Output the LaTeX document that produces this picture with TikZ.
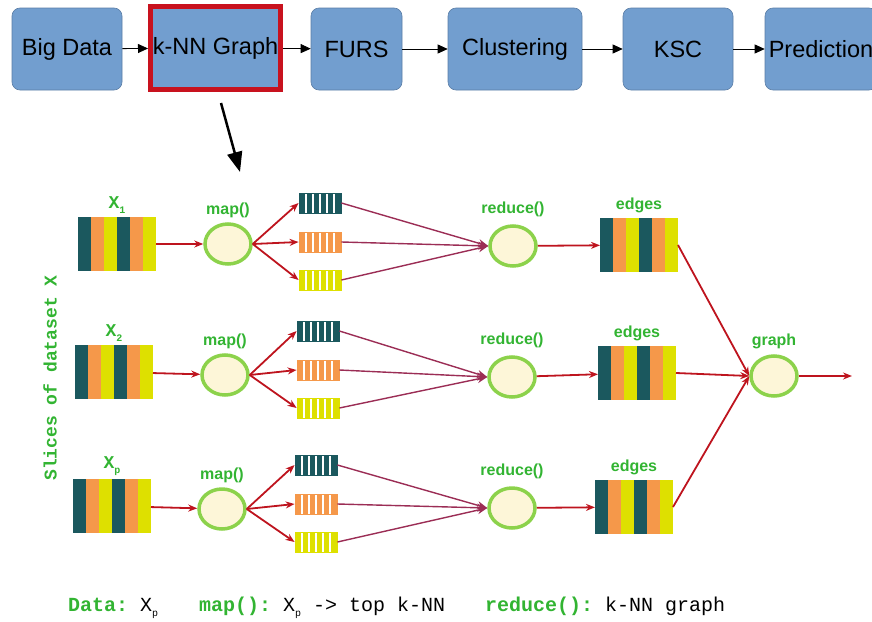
\documentclass[tikz,border=0pt]{standalone}
\usepackage{fontspec}
\setsansfont{Liberation Sans}
\setmonofont{Liberation Mono}
\usetikzlibrary{arrows.meta,shapes.geometric}

\definecolor{boxblue}{RGB}{114,158,207}
\definecolor{framered}{RGB}{200,18,30}
\definecolor{darkteal}{RGB}{27,88,94}
\definecolor{sliceorange}{RGB}{245,152,74}
\definecolor{sliceyellow}{RGB}{222,224,0}
\definecolor{lblgreen}{RGB}{50,180,50}
\definecolor{ringgreen}{RGB}{140,210,75}
\definecolor{cream}{RGB}{253,246,216}
\definecolor{arrred}{RGB}{190,20,30}
\definecolor{linkmaroon}{RGB}{155,45,85}

\newcommand{\subx}[1]{\raisebox{-5pt}{\fontsize{10}{10}\selectfont #1}}

\tikzset{
  stage/.style={rectangle, rounded corners=8pt, fill=boxblue, draw=boxblue!80!black,
    line width=0.6pt, minimum height=82pt, inner sep=2pt,
    font=\sffamily\fontsize{23.5}{27}\selectfont},
  slice/.style={rectangle, inner sep=0pt, outer sep=0pt, minimum width=78pt, minimum height=53pt,
    path picture={
      \foreach \col [count=\i from 0] in {darkteal,sliceorange,sliceyellow,darkteal,sliceorange,sliceyellow}
        \fill[\col] ([xshift=\i*13pt]path picture bounding box.south west) rectangle ++(13pt,80pt);}},
  queue/.style={rectangle, inner sep=0pt, minimum width=42pt, minimum height=20pt,
    fill=#1, draw=#1, line width=0.8pt,
    path picture={
      \foreach \i in {1,...,5}
        \draw[white, line width=1.6pt] ([xshift=\i*7pt]path picture bounding box.south west) -- ++(0pt,30pt);}},
  ring/.style={ellipse, minimum width=46pt, minimum height=40pt, fill=cream, draw=ringgreen, line width=3.5pt},
  lbl/.style={text=lblgreen, font=\sffamily\bfseries\fontsize{16}{18}\selectfont},
  xlbl/.style={text=lblgreen, font=\ttfamily\bfseries\fontsize{18}{20}\selectfont},
  redarr/.style={draw=arrred, line width=1.8pt, -{Stealth[length=9pt,width=7pt]}},
  linkarr/.style={draw=linkmaroon, line width=1.4pt, -{Stealth[length=10pt,width=8pt]}},
  steparr/.style={draw=black, line width=0.8pt, -{Triangle[length=10pt,width=9pt]}}
}

\begin{document}
\begin{tikzpicture}[x=1pt, y=-1pt]
    \useasboundingbox (0,0) rectangle (872,621);

    % pipeline
    \node[stage, minimum width=110pt] (bd) at (67, 49) {Big Data};
    \node[stage, rounded corners=0pt, minimum width=130pt, minimum height=83pt, draw=framered, line width=5pt] (knn) at (215.5, 48) {k-NN Graph};
    \node[stage, minimum width=91pt] (furs) at (356.5, 49) {FURS};
    \node[stage, minimum width=134pt] (clu) at (515, 49) {Clustering};
    \node[stage, minimum width=110pt] (ksc) at (678, 49) {KSC};
    \node[stage, minimum width=112pt] (pred) at (821, 49) {Prediction};

    \path[every edge/.style=steparr]
          (bd) edge (knn)
          (knn) edge (furs)
          (furs) edge (clu)
          (clu) edge (ksc)
          (ksc) edge (pred);

    \coordinate (zt) at (221, 103);
    \coordinate (zh) at (240, 172);
    \draw[line width=2.5pt, -{Triangle[length=20pt,width=15pt]}] (zt) -- (zh);

    % slices
    \node[slice, label={[xlbl]above:X\subx{1}}] (d1) at (117, 244) {};
    \node[slice, label={[xlbl]above:X\subx{2}}] (d2) at (114, 372) {};
    \node[slice, label={[xlbl]above:X\subx{p}}] (d3) at (112, 506) {};

    \node[ring, label={[lbl, label distance=1pt]above:map()}] (m1) at (228, 244) {};
    \node[ring, label={[lbl, label distance=1pt]above:map()}] (m2) at (225, 375) {};
    \node[ring, label={[lbl, label distance=1pt]above:map()}] (m3) at (222, 509) {};

    \node[queue=darkteal] (q11) at (320, 203) {};
    \node[queue=sliceorange] (q12) at (320, 242) {};
    \node[queue=sliceyellow] (q13) at (320, 280) {};
    \node[queue=darkteal] (q21) at (318, 331) {};
    \node[queue=sliceorange] (q22) at (318, 370) {};
    \node[queue=sliceyellow] (q23) at (318, 408) {};
    \node[queue=darkteal] (q31) at (316, 465) {};
    \node[queue=sliceorange] (q32) at (316, 504) {};
    \node[queue=sliceyellow] (q33) at (316, 542) {};

    \node[ring, label={[lbl, label distance=4pt]above:reduce()}] (r1) at (513, 246) {};
    \node[ring, label={[lbl, label distance=4pt]above:reduce()}] (r2) at (512, 377) {};
    \node[ring, label={[lbl, label distance=4pt]above:reduce()}] (r3) at (512, 508) {};

    \node[slice, label={[lbl, label distance=2pt]above:edges}] (e1) at (639, 245) {};
    \node[slice, label={[lbl, label distance=2pt]above:edges}] (e2) at (637, 373) {};
    \node[slice, label={[lbl, label distance=2pt]above:edges}] (e3) at (634, 507) {};

    \node[ring, label={[lbl, label distance=2pt]above:graph}] (g) at (774, 376) {};
    \coordinate (gout) at (852, 376);

    \path[every edge/.style=redarr]
          (d1) edge (m1)
          (d2) edge (m2)
          (d3) edge (m3)
          (m1.east) edge (q11.west)
          (m1.east) edge (q12.west)
          (m1.east) edge (q13.west)
          (m2.east) edge (q21.west)
          (m2.east) edge (q22.west)
          (m2.east) edge (q23.west)
          (m3.east) edge (q31.west)
          (m3.east) edge (q32.west)
          (m3.east) edge (q33.west)
          (r1) edge (e1)
          (r2) edge (e2)
          (r3) edge (e3)
          (e1.east) edge (g.west)
          (e2.east) edge (g.west)
          (e3.east) edge (g.west)
          (g) edge (gout);

    \path[every edge/.style=linkarr]
          (q11.east) edge (r1.west)
          (q12.east) edge (r1.west)
          (q13.east) edge (r1.west)
          (q21.east) edge (r2.west)
          (q22.east) edge (r2.west)
          (q23.east) edge (r2.west)
          (q31.east) edge (r3.west)
          (q32.east) edge (r3.west)
          (q33.east) edge (r3.west);

    \node[xlbl, rotate=90] (side) at (50, 378) {Slices of dataset X};

    % legend
    \node[anchor=base west, inner sep=0pt, font=\ttfamily\fontsize{20}{22}\selectfont] (c1) at (68, 611)
        {{\color{lblgreen}\bfseries Data:} X\subx{p}};
    \node[anchor=base west, inner sep=0pt, font=\ttfamily\fontsize{20}{22}\selectfont] (c2) at (199, 611)
        {{\color{lblgreen}\bfseries map():} X\subx{p} -> top k-NN};
    \node[anchor=base west, inner sep=0pt, font=\ttfamily\fontsize{20}{22}\selectfont] (c3) at (485, 611)
        {{\color{lblgreen}\bfseries reduce():} k-NN graph};
\end{tikzpicture}
\end{document}
